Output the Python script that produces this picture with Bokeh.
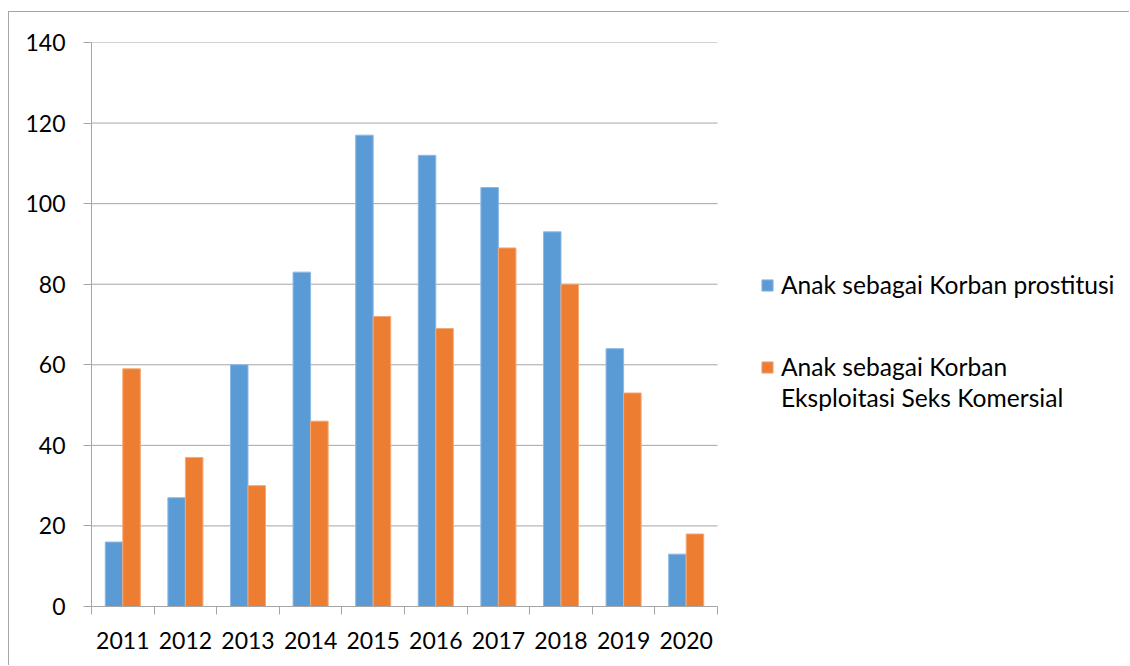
from bokeh.plotting import figure
from bokeh.models import FixedTicker, Legend, LegendItem, ColumnDataSource
from bokeh.embed import file_html
from bokeh.resources import INLINE

years = ["2011", "2012", "2013", "2014", "2015", "2016", "2017", "2018", "2019", "2020"]
prostitusi = [16, 27, 60, 83, 117, 112, 104, 93, 64, 13]
eksploitasi = [59, 37, 30, 46, 72, 69, 89, 80, 53, 18]
series_names = ["Anak sebagai Korban prostitusi", "Anak sebagai Korban", "Eksploitasi Seks Komersial"]
y_ticks = [0, 20, 40, 60, 80, 100, 120, 140]

FONT = "Lato"
GRAY = "#A6A6A6"
BLUE = "#5B9BD5"
ORANGE = "#ED7D31"

n = len(years)
# layout (page pixels): plot area from x=91 to 717, frame extends to right edge for the legend
FIG_W, FIG_H = 1121, 654
LEFT, TOP, BOTTOM = 82, 30, 60
frame_w = FIG_W - LEFT
plot_w = 717 - 91
x_end = n * frame_w / plot_w

centers = [i + 0.5 for i in range(n)]
src = ColumnDataSource(dict(
    xb=[c - 0.14 for c in centers],
    xo=[c + 0.14 for c in centers],
    p=prostitusi,
    e=eksploitasi,
))

p = figure(width=FIG_W, height=FIG_H, output_backend="svg", toolbar_location=None,
           x_range=(0, x_end), y_range=(0, 140),
           min_border_left=LEFT, min_border_right=0, min_border_top=TOP, min_border_bottom=BOTTOM)
p.styles = {"margin-left": "8px", "margin-top": "11px",
            "border-top": f"1px solid {GRAY}", "border-left": f"1px solid {GRAY}"}
p.outline_line_color = None
p.background_fill_color = "white"
p.border_fill_color = "white"

# horizontal gridlines limited to the plot area
p.segment(x0=[0] * len(y_ticks), x1=[n] * len(y_ticks), y0=y_ticks, y1=y_ticks,
          line_color=GRAY, line_width=1)

r1 = p.vbar(x="xb", top="p", width=0.28, source=src, fill_color=BLUE, line_color="#8DB9E4", line_width=1)
r2 = p.vbar(x="xo", top="e", width=0.28, source=src, fill_color=ORANGE, line_color="#F3A878", line_width=1)
dummy = p.vbar(x=[], top=[], width=0.28, fill_alpha=0, line_alpha=0)

p.xgrid.grid_line_color = None
p.ygrid.grid_line_color = None

# y axis
p.yaxis.ticker = FixedTicker(ticks=y_ticks)
p.yaxis.axis_line_color = GRAY
p.yaxis.major_tick_line_color = GRAY
p.yaxis.major_tick_in = 0
p.yaxis.major_tick_out = 8
p.yaxis.minor_tick_line_color = None
p.yaxis.major_label_text_font = FONT
p.yaxis.major_label_text_font_size = "23px"
p.yaxis.major_label_text_color = "black"
p.yaxis.major_label_standoff = 18

# x axis
p.xaxis.bounds = (0, n)
p.xaxis.ticker = FixedTicker(ticks=centers, minor_ticks=list(range(n + 1)))
p.xaxis.major_label_overrides = {c: y for c, y in zip(centers, years)}
p.xaxis.axis_line_color = GRAY
p.xaxis.major_tick_line_color = None
p.xaxis.major_tick_in = 0
p.xaxis.major_tick_out = 8
p.xaxis.minor_tick_line_color = GRAY
p.xaxis.minor_tick_in = 0
p.xaxis.minor_tick_out = 8
p.xaxis.major_label_text_font = FONT
p.xaxis.major_label_text_font_size = "23px"
p.xaxis.major_label_text_color = "black"
p.xaxis.major_label_standoff = 17


def make_legend(items, loc, spacing):
    lg = Legend(items=items, location=loc)
    lg.border_line_color = None
    lg.background_fill_alpha = 0
    lg.padding = 0
    lg.margin = 0
    lg.glyph_width = 14
    lg.glyph_height = 14
    lg.label_standoff = 7
    lg.spacing = spacing
    lg.label_text_font = FONT
    lg.label_text_font_size = "24.6px"
    lg.label_text_color = "black"
    return lg


legend_a = make_legend([LegendItem(label=series_names[0], renderers=[r1])], (669, 307), 0)
legend_b = make_legend([LegendItem(label=series_names[1], renderers=[r2]),
                        LegendItem(label=series_names[2], renderers=[dummy])], (669, 194), 2)
p.add_layout(legend_a, "center")
p.add_layout(legend_b, "center")

open("out.html", "w").write(file_html(p, INLINE))
